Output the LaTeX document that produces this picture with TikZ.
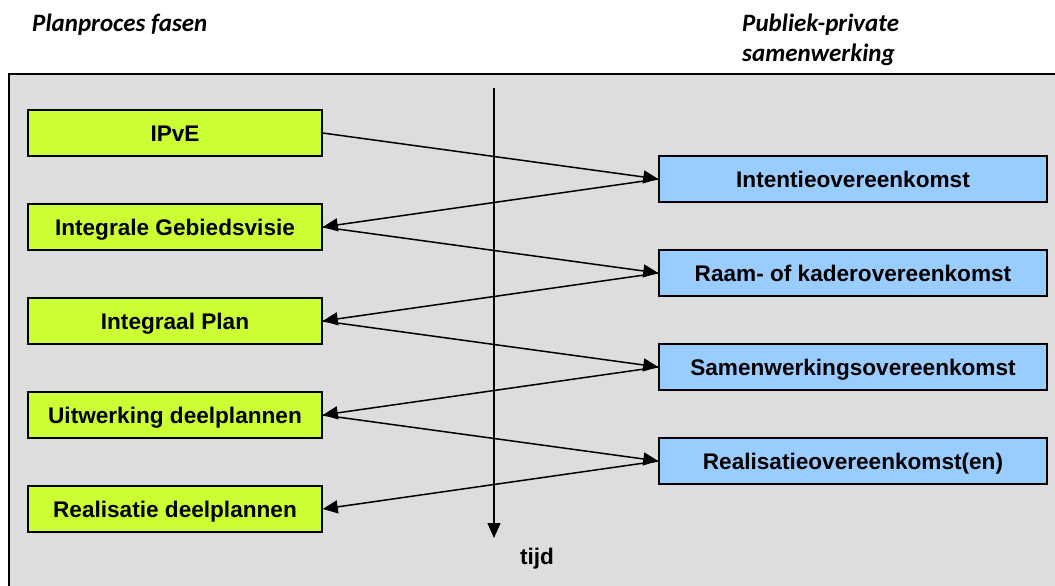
\documentclass[tikz,border=0pt]{standalone}
\usepackage{fontspec}
\setmainfont{Liberation Sans}
\newfontfamily\kopfont{Carlito}
\usetikzlibrary{arrows.meta}
\definecolor{fasegroen}{HTML}{CCFF33}
\definecolor{ppsblauw}{HTML}{99CCFF}
\definecolor{vlakgrijs}{HTML}{DDDDDD}
\tikzset{
  fase/.style={draw=black, line width=1.5pt, fill=fasegroen, minimum width=294pt,
               minimum height=46pt, inner sep=0pt, text height=16pt, text depth=0pt,
               font=\fontsize{22.6}{26}\selectfont\bfseries},
  pps/.style={fase, fill=ppsblauw, minimum width=388pt},
  pijl/.style={line width=1.5pt, -{Triangle[length=15pt,width=13pt]}},
  kop/.style={anchor=base west, inner sep=0pt, font=\kopfont\fontsize{25}{30}\selectfont\bfseries\itshape}
}
\begin{document}
\begin{tikzpicture}[x=1pt, y=-1pt]
    \useasboundingbox (0,0) rectangle (1055,586);
    %Headers
    \node[kop] (kopfasen) at (32,32) {Planproces fasen};
    \node[kop] (koppps) at (742,32) {Publiek-private};
    \node[kop] (koppps2) at (742,62) {samenwerking};
    %Gray frame
    \draw[line width=1.5pt, fill=vlakgrijs] (9,74) rectangle (1070,600);
    %Time axis
    \coordinate (tbegin) at (494,88);
    \coordinate (teind) at (494,538);
    \draw[pijl] (tbegin) -- (teind);
    \node[font=\fontsize{22.6}{26}\selectfont\bfseries] (tijd) at (537,559) {tijd};
    %Plan phases
    \node[fase] (ipve) at (175,133) {IPvE};
    \node[fase] (visie) at (175,227) {Integrale Gebiedsvisie};
    \node[fase] (plan) at (175,321) {Integraal Plan};
    \node[fase] (uitwerking) at (175,415) {Uitwerking deelplannen};
    \node[fase] (realisatie) at (175,509) {Realisatie deelplannen};
    %Agreements
    \node[pps] (intentie) at (853,179) {Intentieovereenkomst};
    \node[pps] (raam) at (853,273) {Raam- of kaderovereenkomst};
    \node[pps] (samenwerking) at (853,367) {Samenwerkingsovereenkomst};
    \node[pps] (realisatieok) at (853,461) {Realisatieovereenkomst(en)};
    %Zigzag arrows
    \foreach \a/\b in {ipve/intentie, visie/raam, plan/samenwerking, uitwerking/realisatieok}
      \draw[pijl] (\a.east) -- (\b.west);
    \foreach \a/\b in {intentie/visie, raam/plan, samenwerking/uitwerking, realisatieok/realisatie}
      \draw[pijl] (\a.west) -- (\b.east);
\end{tikzpicture}
\end{document}
